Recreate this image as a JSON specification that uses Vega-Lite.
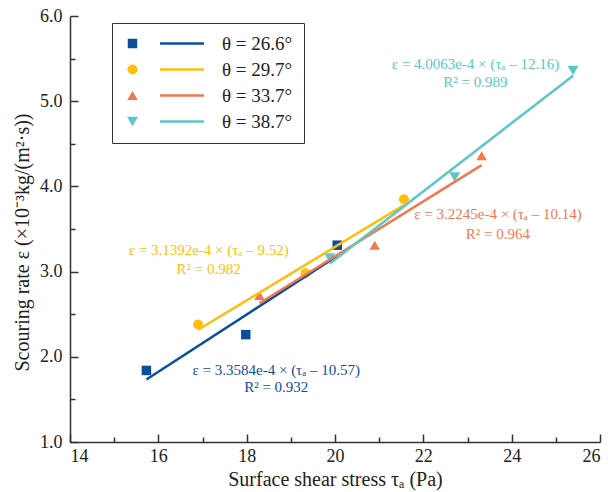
{
  "$schema": "https://vega.github.io/schema/vega-lite/v6.json",
  "width": 530,
  "height": 426,
  "autosize": "none",
  "padding": {"left": 70, "top": 16, "right": 8, "bottom": 50},
  "background": "white",
  "config": {
    "view": {"stroke": null},
    "font": "Liberation Serif",
    "axis": {
      "domainColor": "#333",
      "domainWidth": 1.5,
      "tickColor": "#333",
      "tickWidth": 1.5,
      "tickSize": -8,
      "labelFont": "Liberation Serif",
      "labelFontSize": 18,
      "labelColor": "#222",
      "labelPadding": 8,
      "titleFont": "Liberation Serif",
      "titleFontSize": 20,
      "titleFontWeight": "normal",
      "titleColor": "#222",
      "grid": false
    }
  },
  "datasets": {
    "points": [
      {"theta": "θ = 26.6°", "x": 15.73, "y": 1.84},
      {"theta": "θ = 26.6°", "x": 17.98, "y": 2.26},
      {"theta": "θ = 26.6°", "x": 20.05, "y": 3.31},
      {"theta": "θ = 29.7°", "x": 16.9, "y": 2.38},
      {"theta": "θ = 29.7°", "x": 19.33, "y": 2.98},
      {"theta": "θ = 29.7°", "x": 21.56, "y": 3.85},
      {"theta": "θ = 33.7°", "x": 18.29, "y": 2.72},
      {"theta": "θ = 33.7°", "x": 20.9, "y": 3.31},
      {"theta": "θ = 33.7°", "x": 23.32, "y": 4.36},
      {"theta": "θ = 38.7°", "x": 19.88, "y": 3.16},
      {"theta": "θ = 38.7°", "x": 22.71, "y": 4.11},
      {"theta": "θ = 38.7°", "x": 25.39, "y": 5.36}
    ],
    "fits": [
      {"theta": "θ = 26.6°", "x": 15.73, "y": 1.733},
      {"theta": "θ = 26.6°", "x": 20.05, "y": 3.184},
      {"theta": "θ = 29.7°", "x": 16.9, "y": 2.317},
      {"theta": "θ = 29.7°", "x": 21.56, "y": 3.78},
      {"theta": "θ = 33.7°", "x": 18.29, "y": 2.628},
      {"theta": "θ = 33.7°", "x": 23.32, "y": 4.25},
      {"theta": "θ = 38.7°", "x": 19.88, "y": 3.093},
      {"theta": "θ = 38.7°", "x": 25.39, "y": 5.3}
    ],
    "notes": [
      {"theta": "θ = 38.7°", "x": 23.18, "y": 5.44, "text": "ε = 4.0063e-4 × (τₐ – 12.16)"},
      {"theta": "θ = 38.7°", "x": 23.18, "y": 5.225, "text": "R² = 0.989"},
      {"theta": "θ = 33.7°", "x": 23.69, "y": 3.673, "text": "ε = 3.2245e-4 × (τₐ – 10.14)"},
      {"theta": "θ = 33.7°", "x": 23.69, "y": 3.446, "text": "R² = 0.964"},
      {"theta": "θ = 29.7°", "x": 17.14, "y": 3.25, "text": "ε = 3.1392e-4 × (τₐ – 9.52)"},
      {"theta": "θ = 29.7°", "x": 17.14, "y": 3.035, "text": "R² = 0.982"},
      {"theta": "θ = 26.6°", "x": 18.67, "y": 1.842, "text": "ε = 3.3584e-4 × (τₐ – 10.57)"},
      {"theta": "θ = 26.6°", "x": 18.67, "y": 1.646, "text": "R² = 0.932"}
    ]
  },
  "layer": [
    {
      "data": {"name": "points"},
      "mark": {"type": "point", "filled": true, "opacity": 1},
      "encoding": {
        "x": {
          "field": "x", "type": "quantitative",
          "scale": {"domain": [14, 26], "nice": false, "zero": false},
          "axis": {"values": [14, 16, 18, 20, 22, 24, 26], "format": "d", "title": "Surface shear stress τₐ (Pa)", "titlePadding": 4, "labelPadding": 13}
        },
        "y": {
          "field": "y", "type": "quantitative",
          "scale": {"domain": [1, 6], "nice": false, "zero": false},
          "axis": {"values": [1, 2, 3, 4, 5, 6], "format": ".1f", "title": "Scouring rate ε (×10⁻³kg/(m²·s))", "titlePadding": 0, "titleX": -38, "titleY": 226, "labelPadding": 16}
        },
        "color": {
          "field": "theta", "type": "nominal",
          "scale": {"domain": ["θ = 26.6°", "θ = 29.7°", "θ = 33.7°", "θ = 38.7°"], "range": ["#0B4F9C", "#FBC00E", "#F2784F", "#5EC6C8"]},
          "legend": {
            "title": null,
            "orient": "none",
            "legendX": 42,
            "legendY": 7,
            "direction": "vertical",
            "padding": 11,
            "strokeColor": "#333",
            "rowPadding": 6,
            "labelFont": "Liberation Serif",
            "labelFontSize": 19,
            "labelColor": "#222",
            "labelOffset": 80
          }
        },
        "shape": {
          "field": "theta", "type": "nominal",
          "scale": {"domain": ["θ = 26.6°", "θ = 29.7°", "θ = 33.7°", "θ = 38.7°"], "range": ["square", "circle", "triangle-up", "triangle-down"]}
        },
        "size": {
          "field": "theta", "type": "nominal",
          "scale": {"domain": ["θ = 26.6°", "θ = 29.7°", "θ = 33.7°", "θ = 38.7°"], "range": [90, 120, 180, 180]}
        }
      }
    },
    {
      "data": {"name": "fits"},
      "mark": {"type": "line", "strokeWidth": 2.5},
      "encoding": {
        "x": {
          "field": "x", "type": "quantitative",
          "axis": {"orient": "bottom", "values": [15, 17, 19, 21, 23, 25], "labels": false, "domain": false, "tickSize": -5, "title": null}
        },
        "y": {
          "field": "y", "type": "quantitative",
          "axis": {"orient": "left", "values": [1.5, 2.5, 3.5, 4.5, 5.5], "labels": false, "domain": false, "tickSize": -5, "title": null}
        },
        "stroke": {
          "field": "theta", "type": "nominal",
          "scale": {"range": ["#0B4F9C", "#FBC00E", "#F2784F", "#5EC6C8"]},
          "legend": {
            "title": null,
            "orient": "none",
            "legendX": 42,
            "legendY": 7,
            "direction": "vertical",
            "padding": 11,
            "rowPadding": 6,
            "symbolType": "M5.5,0H14.3",
            "symbolSize": 100,
            "symbolStrokeWidth": 2.5,
            "labelFont": "Liberation Serif",
            "labelFontSize": 19,
            "labelOpacity": 0,
            "labelOffset": 80
          }
        }
      }
    },
    {
      "data": {"name": "notes"},
      "mark": {"type": "text", "font": "Liberation Serif", "fontSize": 15, "align": "center", "baseline": "middle"},
      "encoding": {
        "x": {"field": "x", "type": "quantitative", "axis": null},
        "y": {"field": "y", "type": "quantitative", "axis": null},
        "text": {"field": "text", "type": "nominal"},
        "color": {"field": "theta", "type": "nominal"}
      }
    }
  ],
  "resolve": {"axis": {"x": "independent", "y": "independent"}}
}
